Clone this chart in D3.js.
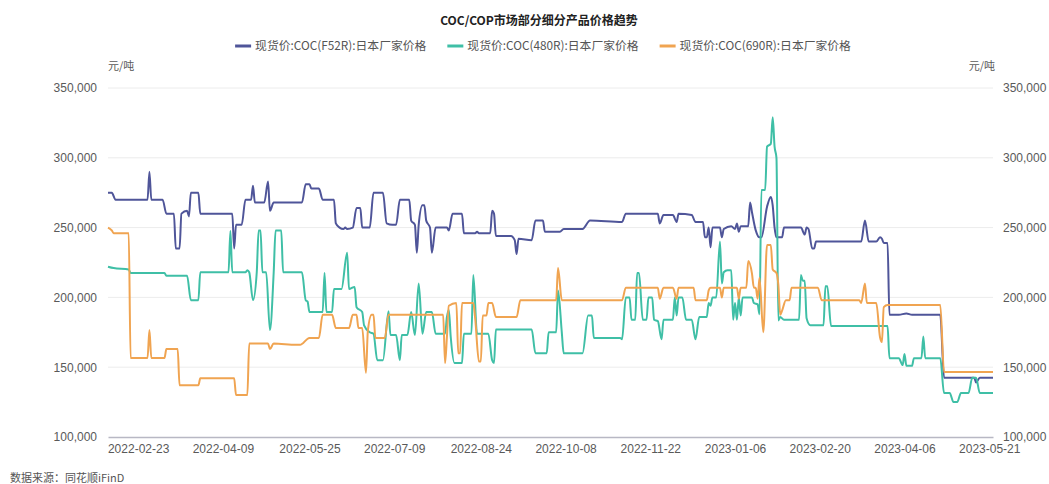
<!DOCTYPE html>
<html>
<head>
<meta charset="utf-8">
<script src="https://cdn.jsdelivr.net/npm/d3@7"></script>
<style>
  html, body { margin: 0; padding: 0; background: #fff; }
  svg { display: block; font-family: "Noto Sans CJK SC", "Noto Sans", sans-serif; }
</style>
</head>
<body>
<svg id="chart" width="1049" height="484"></svg>
<script>
// --- data ---
const seriesNames = [
  "现货价:COC(F52R):日本厂家价格",
  "现货价:COC(480R):日本厂家价格",
  "现货价:COC(690R):日本厂家价格"
];

const f52rPrice = [
  ["2022-02-07",275000],["2022-02-09",275000],["2022-02-11",270000],["2022-02-28",270000],["2022-03-01",290000],
  ["2022-03-02",270000],["2022-03-08",270000],["2022-03-10",260000],["2022-03-14",260000],["2022-03-15",235000],
  ["2022-03-17",235000],["2022-03-18",260000],["2022-03-21",262000],["2022-03-22",258000],["2022-03-23",275000],
  ["2022-03-27",275000],["2022-03-28",260000],["2022-04-14",260000],["2022-04-15",235000],["2022-04-16",252000],
  ["2022-04-19",252000],["2022-04-21",270000],["2022-04-24",270000],["2022-04-25",280000],["2022-04-26",268000],
  ["2022-05-01",268000],["2022-05-03",283000],["2022-05-04",262000],["2022-05-06",268000],["2022-05-21",268000],
  ["2022-05-23",281000],["2022-05-25",281000],["2022-05-26",278000],["2022-05-30",278000],["2022-06-01",270000],
  ["2022-06-07",270000],["2022-06-08",253000],["2022-06-10",250000],["2022-06-12",249000],["2022-06-13",250000],
  ["2022-06-14",249000],["2022-06-17",250000],["2022-06-19",264000],["2022-06-21",264000],["2022-06-22",250000],
  ["2022-06-26",250000],["2022-06-28",275000],["2022-07-03",275000],["2022-07-05",253000],["2022-07-08",252000],
  ["2022-07-10",252000],["2022-07-12",270000],["2022-07-17",270000],["2022-07-18",255000],["2022-07-20",252000],
  ["2022-07-21",232000],["2022-07-22",252000],["2022-07-24",266000],["2022-07-25",266000],["2022-07-26",255000],
  ["2022-07-28",250000],["2022-07-29",232000],["2022-07-31",250000],["2022-08-06",250000],["2022-08-07",248000],
  ["2022-08-09",260000],["2022-08-14",260000],["2022-08-15",246000],["2022-08-21",246000],["2022-08-22",247000],
  ["2022-08-23",246000],["2022-08-29",246000],["2022-08-30",262000],["2022-08-31",260000],["2022-09-01",244000],
  ["2022-09-09",244000],["2022-09-11",241000],["2022-09-12",231000],["2022-09-13",242000],["2022-09-20",241000],
  ["2022-09-22",255000],["2022-09-26",255000],["2022-09-27",247000],["2022-10-05",247000],["2022-10-07",249000],
  ["2022-10-17",249000],["2022-10-21",255000],["2022-11-07",254000],["2022-11-09",260000],["2022-11-26",260000],
  ["2022-11-27",253000],["2022-11-29",259000],["2022-12-04",259000],["2022-12-06",254000],["2022-12-07",260000],
  ["2022-12-14",259000],["2022-12-16",254000],["2022-12-20",254000],["2022-12-21",243000],["2022-12-22",243000],
  ["2022-12-23",250000],["2022-12-24",236000],["2022-12-25",250000],["2022-12-29",250000],["2022-12-30",243000],
  ["2022-12-31",249000],["2023-01-04",251000],["2023-01-06",249000],["2023-01-07",253000],["2023-01-08",247000],
  ["2023-01-09",251000],["2023-01-13",251000],["2023-01-14",268000],["2023-01-15",261000],["2023-01-17",248000],
  ["2023-01-19",243000],["2023-01-20",243000],["2023-01-23",265000],["2023-01-25",272000],["2023-01-26",266000],
  ["2023-01-27",250000],["2023-01-28",243000],["2023-01-31",243000],["2023-02-01",250000],["2023-02-10",250000],
  ["2023-02-12",245000],["2023-02-13",250000],["2023-02-14",249000],["2023-02-16",235000],["2023-02-17",235000],
  ["2023-02-18",240000],["2023-03-14",240000],["2023-03-16",255000],["2023-03-18",240000],["2023-03-22",240000],
  ["2023-03-24",243000],["2023-03-25",242000],["2023-03-26",239000],["2023-03-28",239000],["2023-03-29",187500],
  ["2023-04-03",187500],["2023-04-07",188500],["2023-04-10",187500],["2023-04-25",187500],["2023-04-27",142500],
  ["2023-05-13",142500],["2023-05-14",139000],["2023-05-16",142500],["2023-05-23",142500]
];

const r480Price = [
  ["2022-02-07",222000],["2022-02-10",221000],["2022-02-18",220000],["2022-02-19",217500],["2022-03-09",217500],
  ["2022-03-10",215500],["2022-03-21",215500],["2022-03-23",198000],["2022-03-27",198000],["2022-03-28",218000],
  ["2022-04-12",218000],["2022-04-13",247500],["2022-04-14",218000],["2022-04-21",218000],["2022-04-22",219500],
  ["2022-04-23",218000],["2022-04-25",198000],["2022-04-27",218000],["2022-04-28",248000],["2022-04-29",248000],
  ["2022-04-30",218000],["2022-05-02",218000],["2022-05-04",176600],["2022-05-06",218000],["2022-05-07",248000],
  ["2022-05-10",248000],["2022-05-11",218000],["2022-05-21",218000],["2022-05-23",198000],["2022-05-24",197000],
  ["2022-05-25",189500],["2022-06-01",189500],["2022-06-02",217500],["2022-06-03",189500],["2022-06-06",189500],
  ["2022-06-07",206000],["2022-06-11",206000],["2022-06-14",232000],["2022-06-15",206000],["2022-06-18",207500],
  ["2022-06-19",193000],["2022-06-22",189500],["2022-06-23",180000],["2022-06-26",175000],["2022-06-28",174000],
  ["2022-06-30",155000],["2022-07-03",155000],["2022-07-06",190000],["2022-07-07",173000],["2022-07-10",173000],
  ["2022-07-12",155000],["2022-07-13",173000],["2022-07-16",173000],["2022-07-18",189500],["2022-07-20",173000],
  ["2022-07-22",210000],["2022-07-24",174000],["2022-07-26",189500],["2022-07-29",189500],["2022-07-31",174000],
  ["2022-08-05",174000],["2022-08-06",186000],["2022-08-07",191000],["2022-08-08",172000],["2022-08-10",153000],
  ["2022-08-14",153000],["2022-08-15",174000],["2022-08-19",174000],["2022-08-20",216000],["2022-08-22",174000],
  ["2022-08-28",174000],["2022-08-30",155000],["2022-08-31",153000],["2022-09-01",177000],["2022-09-20",177000],
  ["2022-09-22",160000],["2022-09-28",160000],["2022-09-29",175000],["2022-10-03",175000],["2022-10-04",205000],
  ["2022-10-06",175000],["2022-10-07",160000],["2022-10-17",160000],["2022-10-20",187000],["2022-10-22",187000],
  ["2022-10-23",171000],["2022-11-06",171000],["2022-11-07",170000],["2022-11-09",200000],["2022-11-11",200000],
  ["2022-11-12",184000],["2022-11-14",184000],["2022-11-15",217500],["2022-11-16",217500],["2022-11-18",184000],
  ["2022-11-20",184000],["2022-11-21",200000],["2022-11-23",200000],["2022-11-24",184000],["2022-11-26",183000],
  ["2022-11-28",170000],["2022-11-29",184000],["2022-12-04",184000],["2022-12-05",200000],["2022-12-06",187000],
  ["2022-12-07",200000],["2022-12-09",200000],["2022-12-11",184000],["2022-12-14",184000],["2022-12-16",170000],
  ["2022-12-18",186000],["2022-12-22",186000],["2022-12-23",196000],["2022-12-24",194000],["2022-12-25",200000],
  ["2022-12-27",200000],["2022-12-29",240000],["2022-12-30",210000],["2022-12-31",218000],["2023-01-02",219500],
  ["2023-01-04",219500],["2023-01-05",184000],["2023-01-06",196000],["2023-01-07",184000],["2023-01-08",200000],
  ["2023-01-09",187000],["2023-01-10",200000],["2023-01-15",200000],["2023-01-16",196000],["2023-01-18",195000],
  ["2023-01-19",188000],["2023-01-20",277000],["2023-01-22",277000],["2023-01-23",308000],["2023-01-25",310000],
  ["2023-01-26",329000],["2023-01-27",308000],["2023-01-28",300000],["2023-01-29",183500],["2023-01-30",186000],
  ["2023-02-01",184000],["2023-02-09",184000],["2023-02-10",216000],["2023-02-11",212000],["2023-02-12",212000],
  ["2023-02-13",185000],["2023-02-15",180000],["2023-02-22",180000],["2023-02-23",208000],["2023-02-24",208000],
  ["2023-02-26",179500],["2023-03-28",179500],["2023-03-29",156500],["2023-04-03",156500],["2023-04-05",151500],
  ["2023-04-06",159500],["2023-04-07",151000],["2023-04-10",151000],["2023-04-11",156500],["2023-04-15",156500],
  ["2023-04-16",172000],["2023-04-17",156500],["2023-04-25",156500],["2023-04-27",131500],["2023-04-30",131500],
  ["2023-05-02",125000],["2023-05-04",125000],["2023-05-06",131500],["2023-05-10",131500],["2023-05-12",142500],
  ["2023-05-14",142500],["2023-05-16",131500],["2023-05-23",131500]
];

const r690Price = [
  ["2022-02-07",250000],["2022-02-09",248000],["2022-02-10",246000],["2022-02-18",246000],["2022-02-19",156600],
  ["2022-02-28",156600],["2022-03-01",176600],["2022-03-02",156600],["2022-03-09",156600],["2022-03-10",163000],
  ["2022-03-16",163000],["2022-03-17",137000],["2022-03-27",137000],["2022-03-28",142000],["2022-04-15",142000],
  ["2022-04-16",130000],["2022-04-22",130000],["2022-04-23",167000],["2022-05-03",167000],["2022-05-04",163000],
  ["2022-05-06",167000],["2022-05-18",166000],["2022-05-20",166000],["2022-05-25",171000],["2022-05-30",171000],
  ["2022-06-01",187500],["2022-06-06",187500],["2022-06-08",178000],["2022-06-15",178000],["2022-06-17",187500],
  ["2022-06-19",187500],["2022-06-20",178000],["2022-06-22",178000],["2022-06-24",146000],["2022-06-25",176000],
  ["2022-06-27",187500],["2022-06-28",187500],["2022-06-29",171000],["2022-07-04",171000],["2022-07-06",187500],
  ["2022-08-04",187500],["2022-08-05",153000],["2022-08-06",172000],["2022-08-07",194000],["2022-08-11",196000],
  ["2022-08-12",160000],["2022-08-13",160000],["2022-08-14",196000],["2022-08-20",196000],["2022-08-21",185000],
  ["2022-08-23",154000],["2022-08-24",154000],["2022-08-25",187000],["2022-08-27",187000],["2022-08-28",196000],
  ["2022-08-30",196000],["2022-09-01",186000],["2022-09-12",186000],["2022-09-14",198000],["2022-10-03",198000],
  ["2022-10-04",221000],["2022-10-06",198000],["2022-11-07",198000],["2022-11-09",207000],["2022-11-26",207000],
  ["2022-11-27",199000],["2022-11-29",207000],["2022-12-04",207000],["2022-12-06",199000],["2022-12-07",207000],
  ["2022-12-15",207000],["2022-12-16",198000],["2022-12-22",198000],["2022-12-23",205000],["2022-12-24",207000],
  ["2022-12-29",207000],["2022-12-30",200000],["2022-12-31",207000],["2023-01-07",207000],["2023-01-08",199000],
  ["2023-01-09",207000],["2023-01-12",207000],["2023-01-13",226000],["2023-01-15",217000],["2023-01-16",207000],
  ["2023-01-17",207000],["2023-01-18",199000],["2023-01-19",214000],["2023-01-21",175000],["2023-01-23",237500],
  ["2023-01-25",237500],["2023-01-26",220000],["2023-01-28",217500],["2023-01-29",209000],["2023-01-30",187500],
  ["2023-01-31",190500],["2023-02-02",198000],["2023-02-04",198000],["2023-02-05",207000],["2023-02-19",207000],
  ["2023-02-21",198000],["2023-03-13",198000],["2023-03-14",196000],["2023-03-16",210000],["2023-03-17",196000],
  ["2023-03-22",196000],["2023-03-24",171500],["2023-03-25",168000],["2023-03-26",193000],["2023-03-28",194500],
  ["2023-04-25",194500],["2023-04-27",146500],["2023-05-23",146500]
];

const seriesColors = ["#4f5599", "#3fbfa6", "#f0a451"];
const xTickLabels = ["2022-02-23","2022-04-09","2022-05-25","2022-07-09","2022-08-24","2022-10-08",
                     "2022-11-22","2023-01-06","2023-02-20","2023-04-06","2023-05-21"];
const yTicks = [100000, 150000, 200000, 250000, 300000, 350000];

// --- layout ---
const width = 1049, height = 484;
const margin = { top: 88, right: 56, bottom: 47, left: 108 };
const parseDate = d3.timeParse("%Y-%m-%d");

const allSeries = [f52rPrice, r480Price, r690Price].map(s => s.map(([d, v]) => ({ date: parseDate(d), value: v })));

const svg = d3.select("#chart");

const x = d3.scaleTime()
  .domain(d3.extent(allSeries.flat(), d => d.date))
  .range([margin.left, width - margin.right]);

const y = d3.scaleLinear()
  .domain([100000, 350000])
  .range([height - margin.bottom, margin.top]);

const fmt = d3.format(",");

// grid lines
svg.append("g")
  .selectAll("line")
  .data(yTicks.slice(1))
  .join("line")
  .attr("x1", margin.left).attr("x2", width - margin.right)
  .attr("y1", d => y(d)).attr("y2", d => y(d))
  .attr("stroke", "#ececec").attr("stroke-width", 1);

// left axis
svg.append("g")
  .attr("transform", `translate(${margin.left - 11},0)`)
  .call(d3.axisLeft(y).tickValues(yTicks).tickFormat(fmt).tickSize(0).tickPadding(0))
  .call(g => g.select(".domain").remove())
  .selectAll("text")
  .attr("fill", "#595959").attr("font-size", 12);

// right axis
svg.append("g")
  .attr("transform", `translate(${width - margin.right + 10},0)`)
  .call(d3.axisRight(y).tickValues(yTicks).tickFormat(fmt).tickSize(0).tickPadding(0))
  .call(g => g.select(".domain").remove())
  .selectAll("text")
  .attr("fill", "#595959").attr("font-size", 12);

// unit labels
svg.append("text").attr("x", margin.left).attr("y", 70)
  .attr("font-size", 11).attr("fill", "#595959").text("元/吨");
svg.append("text").attr("x", width - margin.right + 2).attr("y", 70)
  .attr("text-anchor", "end")
  .attr("font-size", 11).attr("fill", "#595959").text("元/吨");

// bottom axis
svg.append("g")
  .attr("transform", `translate(0,${height - margin.bottom})`)
  .call(d3.axisBottom(x).tickValues(xTickLabels.map(parseDate))
    .tickFormat(d3.timeFormat("%Y-%m-%d")).tickSize(0).tickPadding(7))
  .call(g => g.select(".domain").attr("stroke", "#b8b8c4").attr("stroke-width", 1.5))
  .selectAll("text")
  .attr("fill", "#595959").attr("font-size", 12);

// lines
const line = d3.line()
  .x(d => x(d.date))
  .y(d => y(d.value))
  .curve(d3.curveMonotoneX);

svg.append("g")
  .selectAll("path")
  .data(allSeries)
  .join("path")
  .attr("d", line)
  .attr("fill", "none")
  .attr("stroke", (d, i) => seriesColors[i])
  .attr("stroke-width", 2)
  .attr("stroke-linejoin", "round");

// title
svg.append("text")
  .attr("x", 539).attr("y", 25)
  .attr("text-anchor", "middle")
  .attr("font-size", 12).attr("font-weight", "bold").attr("fill", "#222")
  .text("COC/COP市场部分细分产品价格趋势");

// legend
const legend = svg.append("g").attr("transform", "translate(0,46)");
const items = legend.selectAll("g")
  .data(seriesNames)
  .join("g");
items.append("line")
  .attr("x1", 0).attr("x2", 16).attr("y1", 0).attr("y2", 0)
  .attr("stroke", (d, i) => seriesColors[i]).attr("stroke-width", 3);
items.append("text")
  .attr("x", 20).attr("y", 4)
  .attr("font-size", 11.8).attr("fill", "#555")
  .text(d => d);
let cursor = 0;
const offsets = [];
items.each(function() {
  offsets.push(cursor);
  cursor += 20 + this.querySelector("text").getComputedTextLength() + 21;
});
const totalW = cursor - 21;
const startX = 543 - totalW / 2;
items.attr("transform", (d, i) => `translate(${startX + offsets[i]},0)`);

// source note
svg.append("text")
  .attr("x", 10).attr("y", 482)
  .attr("font-size", 11).attr("fill", "#555")
  .text("数据来源：同花顺iFinD");
</script>
</body>
</html>
